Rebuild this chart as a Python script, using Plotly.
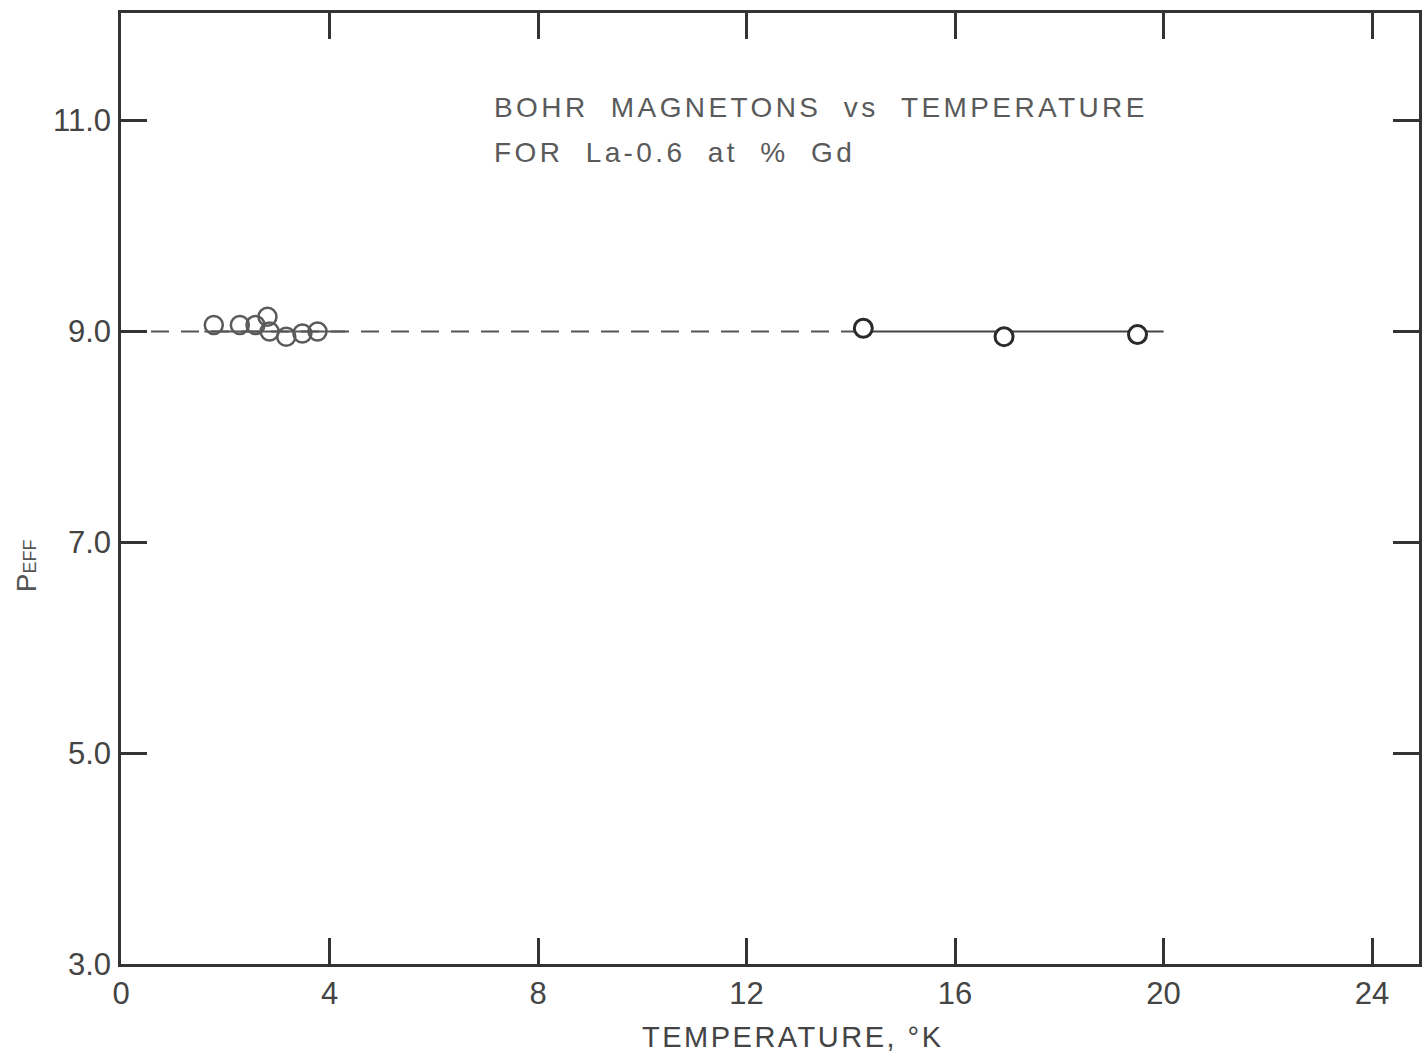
import plotly.graph_objects as go

# Measured effective moment of La-0.6 at % Gd
temp_low = [1.78, 2.28, 2.58, 2.81, 2.85, 3.17, 3.48, 3.77]
peff_low = [9.06, 9.06, 9.06, 9.14, 9.00, 8.95, 8.98, 9.00]
temp_high = [14.24, 16.94, 19.5]
peff_high = [9.03, 8.95, 8.97]

# Reference level drawn through the data
peff_level = 9.0
dash_span = [0.0, 14.24]
cluster_span = [1.6, 4.3]
solid_span = [14.24, 20.0]

x_ticks = [0, 4, 8, 12, 16, 20, 24]
y_ticks = [3.0, 5.0, 7.0, 9.0, 11.0]

ink = "#333333"
font_family = "Liberation Sans, Arial, sans-serif"

# plot area in pixels, used to place free text
PL, PT, PW, PH = 121, 13, 1301, 951


def px_to_paper(px, py):
    return (px - PL) / PW, (PT + PH - py) / PH


def spaced(text, spacing):
    return f"<span style='letter-spacing:{spacing}px'>{text}</span>"


fig = go.Figure()

fig.add_trace(go.Scatter(
    x=dash_span, y=[peff_level, peff_level], mode="lines",
    line=dict(color="#555555", width=2, dash="18px,12px"), hoverinfo="skip"))
fig.add_trace(go.Scatter(
    x=cluster_span, y=[peff_level, peff_level], mode="lines",
    line=dict(color="#555555", width=2), hoverinfo="skip"))
fig.add_trace(go.Scatter(
    x=solid_span, y=[peff_level, peff_level], mode="lines",
    line=dict(color="#444444", width=2), hoverinfo="skip"))

fig.add_trace(go.Scatter(
    x=temp_low, y=peff_low, mode="markers",
    marker=dict(symbol="circle", size=18, color="rgba(255,255,255,0)",
                line=dict(color="#5a5a5a", width=2.5))))
fig.add_trace(go.Scatter(
    x=temp_high, y=peff_high, mode="markers",
    marker=dict(symbol="circle", size=18, color="white",
                line=dict(color="#2a2a2a", width=3))))

title_font = dict(family=font_family, size=28, color="#5a5a5a")
gap = "&nbsp;&nbsp;"
line1 = gap.join(["BOHR", "MAGNETONS", "vs", "TEMPERATURE"])
line2 = gap.join(["FOR", "La-0.6", "at", "%", "Gd"])
for text, ymid in [(line1, 107), (line2, 153)]:
    xp, yp = px_to_paper(493, ymid)
    fig.add_annotation(x=xp, y=yp, xref="paper", yref="paper",
                       xanchor="left", yanchor="middle", showarrow=False,
                       text=spaced(text, 3.4), font=title_font)

xp, yp = px_to_paper(795, 1037)
fig.add_annotation(x=xp, y=yp, xref="paper", yref="paper",
                   xanchor="center", yanchor="middle", showarrow=False,
                   text=spaced("TEMPERATURE, °K", 2.5),
                   font=dict(family=font_family, size=29, color="#444444"))

xp, yp = px_to_paper(27, 566)
fig.add_annotation(x=xp, y=yp, xref="paper", yref="paper",
                   xanchor="center", yanchor="middle", showarrow=False,
                   text="P<span style='font-size:18px'>EFF</span>", textangle=-90,
                   font=dict(family=font_family, size=28, color="#555555"))

axis_common = dict(
    showline=True, linecolor=ink, linewidth=2.5, mirror="ticks",
    ticks="inside", ticklen=26, tickwidth=2.5, tickcolor=ink,
    showgrid=False, zeroline=False,
    tickfont=dict(family=font_family, size=31, color="#444444"),
)

fig.update_layout(
    width=1425, height=1061,
    margin=dict(l=PL, r=1425 - PL - PW, t=PT, b=1061 - PT - PH),
    paper_bgcolor="white", plot_bgcolor="white",
    showlegend=False,
    xaxis=dict(range=[0, 24.9], tickvals=x_ticks, ticklabelstandoff=0,
               **axis_common),
    yaxis=dict(range=[3, 12.02], tickvals=y_ticks, tickformat=".1f",
               ticklabelstandoff=1, **axis_common),
)

fig.write_html("out.html")
